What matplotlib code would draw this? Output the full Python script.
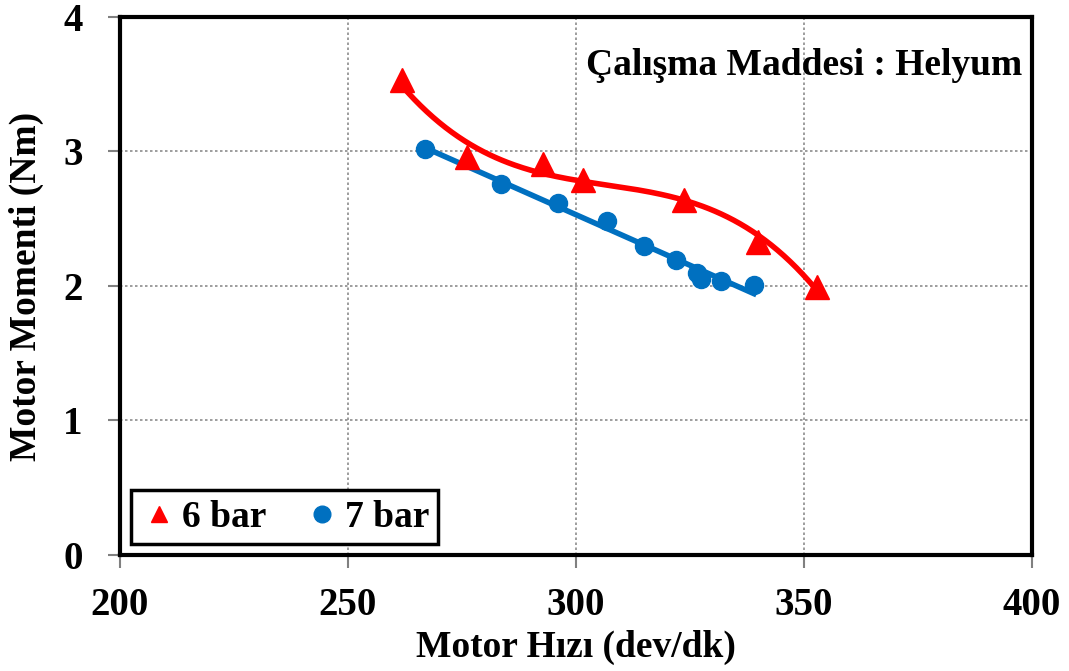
import numpy as np
import matplotlib
matplotlib.use("Agg")
import matplotlib.pyplot as plt

plt.rcParams['font.family'] = ['Liberation Serif', 'DejaVu Serif']
plt.rcParams['font.weight'] = 'bold'

# 6 bar data
x6 = [261.8, 276.1, 292.8, 301.5, 323.7, 339.9, 352.9]
y6 = [3.53, 2.96, 2.91, 2.79, 2.64, 2.33, 1.99]
# 7 bar data
x7 = [266.9, 283.6, 296.1, 306.8, 314.9, 321.9, 326.5, 327.4, 331.8, 339.0]
y7 = [3.02, 2.76, 2.62, 2.48, 2.30, 2.19, 2.10, 2.05, 2.04, 2.01]

xticks = [200, 250, 300, 350, 400]
yticks = [0, 1, 2, 3, 4]

fig = plt.figure(figsize=(10.69, 6.71), dpi=100)
ax = fig.add_axes([0.1123, 0.1729, 0.8531, 0.8018])

red = '#FF0000'
blue = '#0070C0'

# trendlines
p6 = np.polyfit(x6, y6, 3)
xx6 = np.linspace(min(x6), max(x6), 200)
ax.plot(xx6, np.polyval(p6, xx6), color=red, lw=4, zorder=3)
p7 = np.polyfit(x7, y7, 1)
xx7 = np.linspace(min(x7), max(x7), 50)
ax.plot(xx7, np.polyval(p7, xx7), color=blue, lw=4, zorder=3)

ax.plot(x6, y6, linestyle='none', marker='^', ms=17, color=red, label='6 bar', zorder=4)
ax.plot(x7, y7, linestyle='none', marker='o', ms=13, color=blue, label='7 bar', zorder=4)

ax.set_xlim(200, 400)
ax.set_ylim(0, 4)
ax.set_xticks(xticks)
ax.set_yticks(yticks)
ax.tick_params(axis='both', labelsize=28, direction='out', length=9, width=1.5,
               color='#808080')
ax.tick_params(axis='x', pad=14)
ax.tick_params(axis='y', pad=18)
for lab in ax.get_xticklabels() + ax.get_yticklabels():
    lab.set_fontweight('bold')

ax.grid(True, color='#8c8c8c', linestyle=(0, (1.5, 1.5)), lw=1.2)
ax.set_axisbelow(True)
for sp in ax.spines.values():
    sp.set_linewidth(3)
    sp.set_color('black')

ax.set_xlabel('Motor Hızı (dev/dk)', fontsize=27, fontweight='bold', labelpad=4)
ax.set_ylabel('Motor Momenti (Nm)', fontsize=27, fontweight='bold', labelpad=14)

ax.text(0.989, 0.91, 'Çalışma Maddesi : Helyum', transform=ax.transAxes,
        ha='right', va='center', fontsize=27, fontweight='bold')

leg = ax.legend(loc='lower left', bbox_to_anchor=(0.012, 0.02), ncol=2,
                frameon=True, fancybox=False, handletextpad=0.1,
                columnspacing=1.0, borderpad=0.25, handlelength=1.0,
                borderaxespad=0.0, framealpha=1,
                prop={'weight': 'bold', 'size': 27})
leg.get_frame().set_edgecolor('black')
leg.get_frame().set_linewidth(2.5)
for h in leg.legend_handles:
    h.set_markersize(12)

fig.savefig('out.png', dpi=100)
